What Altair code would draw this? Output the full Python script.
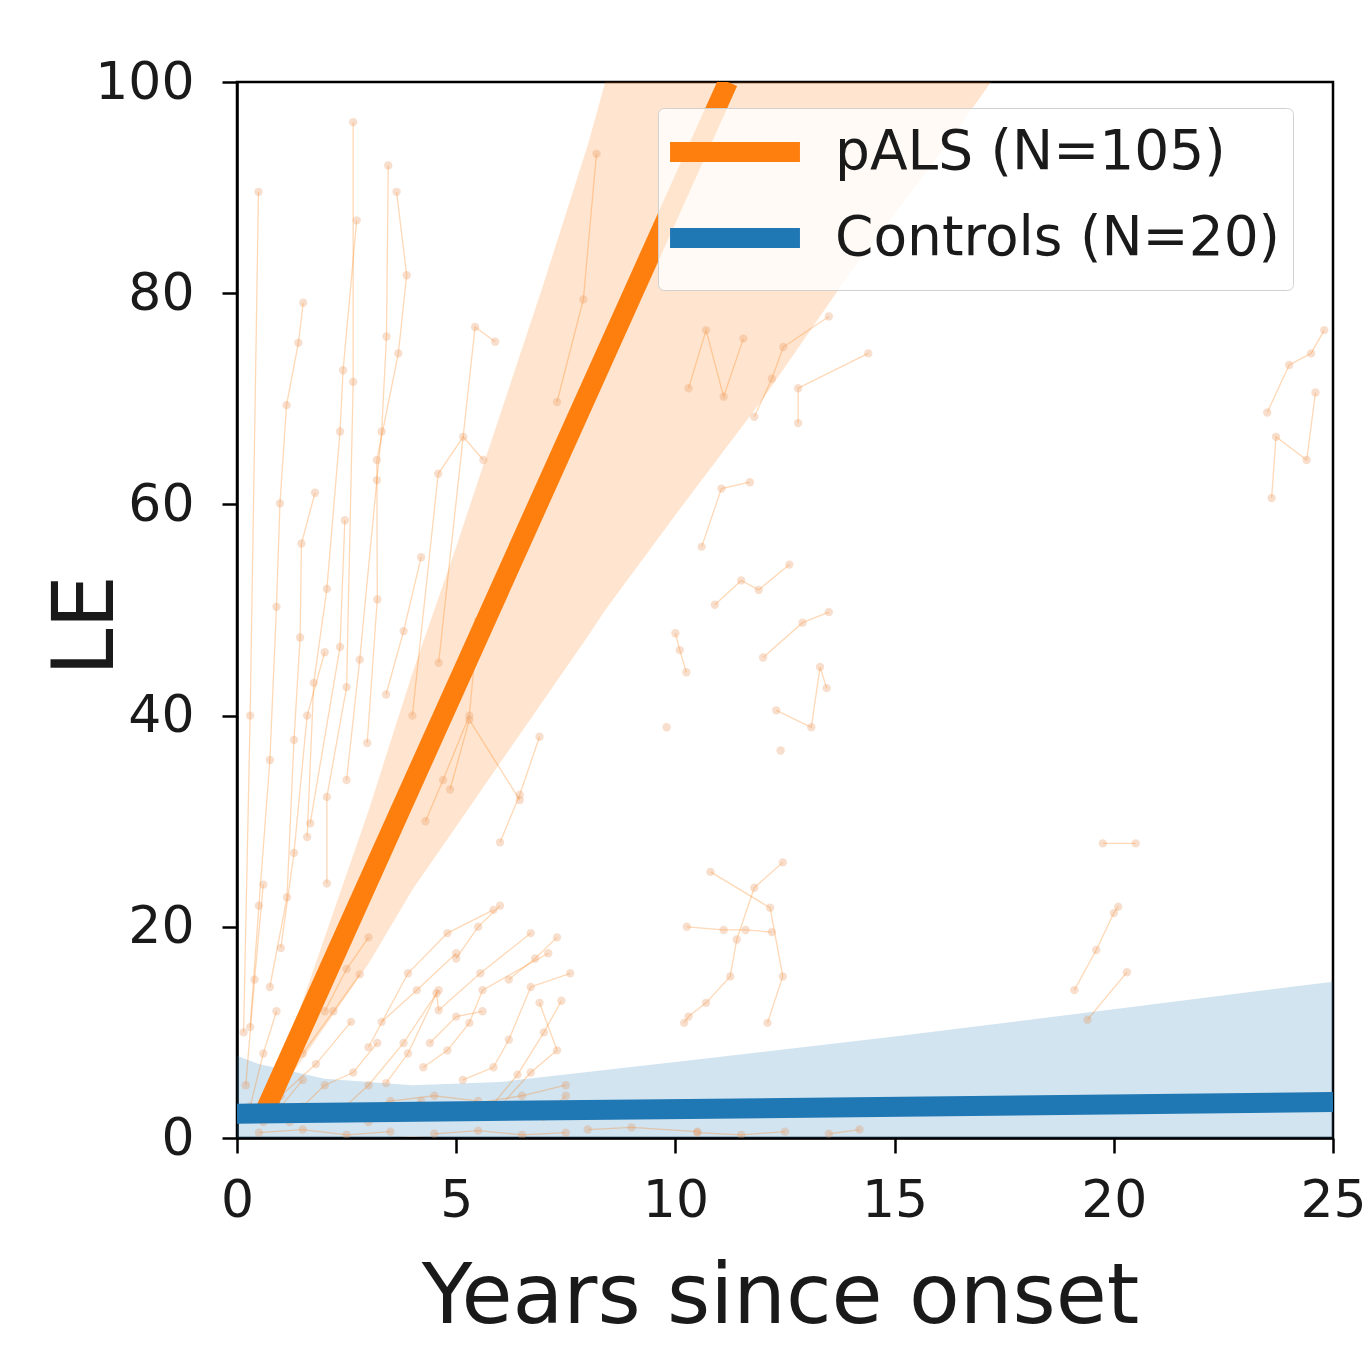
import altair as alt
import pandas as pd

# ---------------- data ----------------
# individual pALS trajectories: one list of (years, LE) per subject
traj_x = [
    [0.15, 0.3, 0.49],
    [0.3, 0.5, 0.75, 0.9, 0.98, 1.13, 1.40, 1.51],
    [0.75, 1.14, 1.3, 1.44, 1.47, 1.78],
    [1.6, 1.75, 2.05, 2.35, 2.42, 2.73],
    [2.05, 2.05, 2.5, 2.65, 2.65],
    [1.67, 2.35, 2.46],
    [2.5, 2.8, 3.19, 3.30, 3.41, 3.45],
    [2.97, 3.2, 3.19, 3.68, 3.87, 3.64],
    [4.0, 4.59, 5.16, 5.62],
    [4.6, 5.43, 5.89],
    [4.3, 4.7, 5.3, 5.5],
    [6.0, 6.45, 6.9],
    [7.3, 7.9, 8.2],
    [10.3, 10.7, 11.1, 11.55],
    [11.8, 12.2, 12.46, 13.5],
    [12.8, 12.8, 14.4],
    [10.6, 11.05, 11.7],
    [10.9, 11.5, 11.9, 12.6],
    [10.0, 10.1, 10.25],
    [12.0, 12.9, 13.5],
    [12.3, 13.1, 13.3, 13.45],
    [9.8],
    [12.4],
    [10.2, 10.3, 10.7, 11.25, 11.4, 11.8, 12.45],
    [10.26, 11.1, 11.6, 12.2],
    [10.8, 12.16, 12.45, 12.1],
    [19.1, 19.6, 20.0, 20.1],
    [19.4, 20.3],
    [19.75, 20.5],
    [23.5, 24.0, 24.5, 24.8],
    [23.6, 23.7, 24.4, 24.6],
    [3.0, 3.9, 4.8, 5.85],
    [3.4, 3.9, 4.55, 4.6, 5.55, 6.7],
    [4.25, 4.8, 5.3, 5.6, 7.1],
    [5.15, 5.85, 6.2, 6.7, 7.6],
    [6.0, 6.7, 7.3, 6.9],
    [1.5, 2.0, 2.65, 3.2],
    [1.2, 2.5, 3.5, 4.5, 5.5],
    [2.0, 2.5, 3.0],
    [4.0, 5.0, 6.5, 7.5],
    [5.0, 5.5, 6.0],
    [0.5, 1.5, 2.5, 3.5],
    [4.5, 5.5, 6.5, 7.5],
    [10.5, 11.5, 12.5],
    [13.5, 14.2],
    [0.3, 0.6, 0.9],
    [1.0, 1.8, 2.6],
    [2.2, 3.0, 3.8, 4.6],
    [3.3, 4.1, 5.0],
    [5.8, 6.4, 7.0, 7.4],
    [6.2, 6.8, 7.3],
    [1.5, 2.2, 2.8],
    [4.4, 5.0, 5.6],
    [7.0, 7.5],
    [3.0, 3.6, 4.2],
    [0.6, 1.0, 1.5],
    [8.0, 9.0, 10.5],
    [0.2, 0.4, 0.6],
    [1.0, 1.3, 1.6, 2.0],
    [3.4, 3.8, 4.2],
    [4.86, 5.3, 6.45],
]
traj_y = [
    [10, 40, 89.6],
    [10.5, 22, 35.8, 50.3, 60.1, 69.4, 75.3, 79.1],
    [14.3, 22.8, 37.7, 47.4, 56.3, 61.1],
    [28.5, 43.1, 52, 66.9, 72.7, 86.9],
    [24.1, 32.3, 42.7, 71.6, 96.2],
    [29.8, 46.5, 58.5],
    [33.9, 45.3, 62.3, 66.9, 75.9, 92.1],
    [37.4, 51, 64.2, 74.3, 81.7, 89.6],
    [40, 62.9, 66.4, 64.2],
    [45, 76.8, 75.4],
    [30, 33.9, 40, 49],
    [28, 32.5, 38],
    [69.7, 79.4, 93.2],
    [71.0, 76.5, 70.2, 75.7],
    [68.3, 71.9, 74.9, 77.8],
    [67.7, 71, 74.3],
    [56, 61.5, 62.1],
    [50.5, 52.8, 51.9, 54.3],
    [47.8, 46.2, 44.1],
    [45.5, 48.8, 49.8],
    [40.5, 38.9, 44.6, 42.6],
    [38.9],
    [36.7],
    [10.9, 11.5, 12.8, 15.3, 18.8, 23.7, 26.1],
    [20, 19.7, 19.7, 19.5],
    [25.2, 21.8, 15.3, 10.9],
    [14.0, 17.8, 21.3, 21.9],
    [11.2, 15.7],
    [27.9, 27.9],
    [68.7, 73.2, 74.3, 76.5],
    [60.6, 66.4, 64.2, 70.6],
    [8.6, 15.6, 19.4, 21.6],
    [5.2, 8.0, 13.7, 12.1, 15.6, 19.4],
    [6.7, 8.3, 10.9, 14.0, 17.5],
    [5.5, 6.7, 9.3, 14.3, 15.6],
    [3, 6.2, 8.3, 12.8],
    [3, 5, 6.2, 9],
    [1.5, 2.5, 3.5, 4, 3.5],
    [12, 16, 19],
    [2.5, 3, 4, 5],
    [17, 20, 22],
    [0.5, 0.8, 0.3, 0.6],
    [0.4, 0.7, 0.3, 0.5],
    [0.5, 0.3, 0.6],
    [0.4, 0.8],
    [3, 8, 12],
    [4, 7, 11],
    [2, 5, 9, 14],
    [11, 14, 17.5],
    [3, 6, 10, 13],
    [15, 17, 19],
    [8, 12, 15.5],
    [9, 11.5, 12],
    [2, 4],
    [1.5, 2.5, 3.5],
    [1.5, 3, 5.5],
    [0.8, 1.0, 0.6],
    [5, 15, 24],
    [18, 27, 40, 46],
    [42, 48, 55],
    [33, 39.6, 32],
]

# group fits (regression line + confidence band)
pals_fit_x = [0.6, 11.2]
pals_fit_y = [2.2, 100]
pals_ci_x = [0.6, 1, 2, 3, 4, 5, 6, 7, 8, 8.4, 10, 12, 14, 16, 17.2]
pals_ci_lo = [2.0, 4.5, 10.5, 16.5, 23.5, 29.5, 35.5, 41.5, 47.5, 50, 59, 70, 82, 93, 100]
pals_ci_hi = [2.5, 7, 19, 31, 44, 56, 68.5, 81, 94, 100, 100, 100, 100, 100, 100]

ctrl_fit_x = [0, 25]
ctrl_fit_y = [2.3, 3.4]
ctrl_ci_x = [0, 0.5, 2, 4, 6, 10, 15, 20, 25]
ctrl_ci_hi = [7.8, 7.0, 5.6, 5.0, 5.3, 7.2, 9.6, 12.2, 14.8]
ctrl_ci_lo = [-3, -2, -0.5, 0.2, -0.5, -2.5, -4.5, -6, -8]

groups = ["pALS (N=105)", "Controls (N=20)"]
colors = ["#ff7f0e", "#1f77b4"]
x_ticks = [0, 5, 10, 15, 20, 25]
y_ticks = [0, 20, 40, 60, 80, 100]

# ---------------- tables ----------------
rows = []
for sid, (xs_, ys_) in enumerate(zip(traj_x, traj_y)):
    for k, (xv, yv) in enumerate(zip(xs_, ys_)):
        rows.append({"subj": sid, "seq": k, "years": xv, "LE": yv})
traj = pd.DataFrame(rows)

fit = pd.concat([
    pd.DataFrame({"years": pals_fit_x, "LE": pals_fit_y, "group": groups[0], "o": 0}),
    pd.DataFrame({"years": ctrl_fit_x, "LE": ctrl_fit_y, "group": groups[1], "o": 1}),
])
pals_ci = pd.DataFrame({"years": pals_ci_x, "lo": pals_ci_lo, "hi": pals_ci_hi})
ctrl_ci = pd.DataFrame({"years": ctrl_ci_x, "lo": ctrl_ci_lo, "hi": ctrl_ci_hi})

FONT = "DejaVu Sans"
xs = alt.Scale(domain=[0, 25], nice=False, zero=False)
ys = alt.Scale(domain=[0, 100], nice=False)

X = alt.X("years:Q", scale=xs, title="Years since onset",
          axis=alt.Axis(values=x_ticks, format="d", titleX=543, titleY=184,
                        labelFlush=False,
                        titleBaseline="alphabetic", titleAlign="center"))
Yband = alt.Y("hi:Q", scale=ys, title="LE",
              axis=alt.Axis(values=y_ticks, format="d", titleX=-125, titleY=543,
                            labelFlush=False,
                            titleBaseline="alphabetic", titleAlign="center"))

ctrl_band = alt.Chart(ctrl_ci).mark_area(color=colors[1], opacity=0.2, clip=True).encode(
    x=X, y=Yband, y2="lo:Q")
pals_band = alt.Chart(pals_ci).mark_area(color=colors[0], opacity=0.2, clip=True).encode(
    x=alt.X("years:Q", scale=xs), y=alt.Y("hi:Q", scale=ys), y2="lo:Q")

traj_lines = alt.Chart(traj).mark_line(color=colors[0], strokeWidth=1.3, opacity=0.3, clip=True).encode(
    x=alt.X("years:Q", scale=xs), y=alt.Y("LE:Q", scale=ys), detail="subj:N", order="seq:Q")
traj_pts = alt.Chart(traj).mark_circle(color="#e8955a", size=70, opacity=0.3, clip=True).encode(
    x=alt.X("years:Q", scale=xs), y=alt.Y("LE:Q", scale=ys))

fit_lines = alt.Chart(fit).mark_line(strokeWidth=20, strokeCap="butt", clip=True).encode(
    x=alt.X("years:Q", scale=xs), y=alt.Y("LE:Q", scale=ys),
    detail="group:N",
    color=alt.Color("group:N", scale=alt.Scale(domain=groups, range=colors),
                    sort=groups,
                    legend=alt.Legend(title=None, orient="none", legendX=421, legendY=26,
                                      symbolType="M-3,0H3", symbolSize=1875,
                                      symbolStrokeWidth=20, symbolOffset=33,
                                      symbolFillColor="transparent",
                                      labelFontSize=55, labelLimit=2000,
                                      labelFont=FONT, labelColor="#1a1a1a",
                                      labelOffset=68, padding=12, rowPadding=6,
                                      fillColor="rgba(255,255,255,0.8)",
                                      strokeColor="#d0d0d0", cornerRadius=6)),
    order="o:Q")

chart = alt.layer(ctrl_band, pals_band, traj_lines, traj_pts, fit_lines).properties(
    width=1096, height=1056,
    padding={"left": 237, "top": 82, "right": 36, "bottom": 214},
    autosize=alt.AutoSizeParams(type="none"),
).configure_view(stroke="black", strokeWidth=2.5).configure_axis(
    grid=False, domainColor="black", domainWidth=2.5, tickColor="black", tickWidth=2.5,
    tickSize=15, labelFont=FONT, labelFontSize=52, labelColor="#1a1a1a", labelFlush=False,
    titleFont=FONT, titleFontWeight="normal", titleColor="#1a1a1a",
).configure_axisX(labelPadding=22, titleFontSize=83).configure_axisY(
    labelPadding=28, titleFontSize=85)

chart.save("out.html", embed_options={"renderer": "svg", "actions": False})
